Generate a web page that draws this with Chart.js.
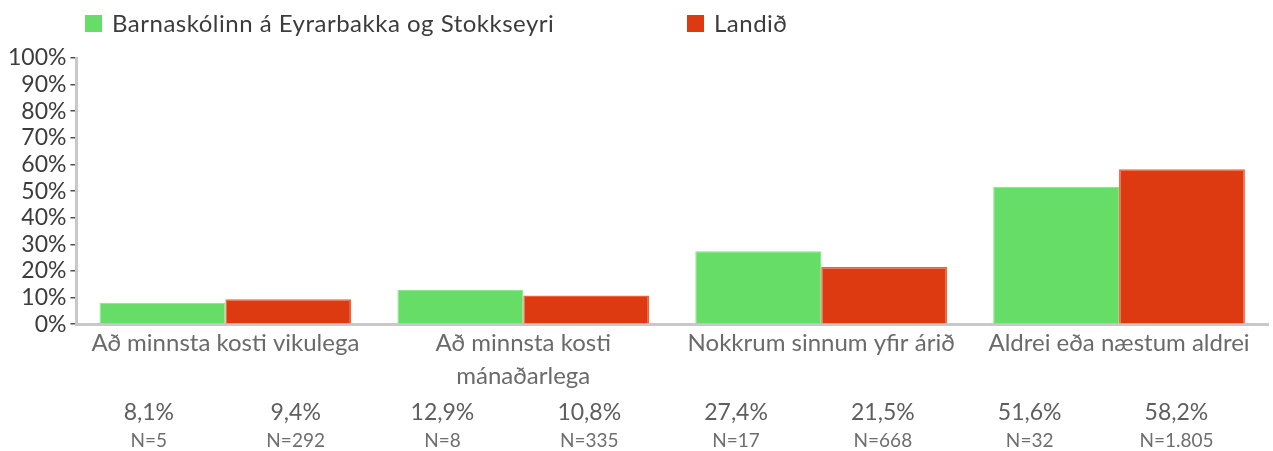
<!DOCTYPE html>
<html>
<head>
<meta charset="utf-8">
<script src="https://cdn.jsdelivr.net/npm/chart.js@4/dist/chart.umd.min.js"></script>
<style>
  html, body { margin: 0; padding: 0; background: #ffffff; }
  #wrap { width: 1273px; height: 451px; position: relative; }
</style>
</head>
<body>
<div id="wrap"><canvas id="chart"></canvas></div>
<script>
// Survey answers: how often pupils do the activity
const categories = [
  ["Að minnsta kosti vikulega"],
  ["Að minnsta kosti", "mánaðarlega"],
  ["Nokkrum sinnum yfir árið"],
  ["Aldrei eða næstum aldrei"]
];
const seriesNames = ["Barnaskólinn á Eyrarbakka og Stokkseyri", "Landið"];
const schoolValues = [8.1, 12.9, 27.4, 51.6];
const nationalValues = [9.4, 10.8, 21.5, 58.2];
const schoolCounts = ["5", "8", "17", "32"];
const nationalCounts = ["292", "335", "668", "1.805"];
const yTickValues = [0, 10, 20, 30, 40, 50, 60, 70, 80, 90, 100];

const GREEN = "#66dd66";
const RED = "#dd3a12";
const FONT = "Lato, 'Open Sans', sans-serif";

const fmtPct = v => v.toFixed(1).replace(".", ",") + "%";

// Legend row drawn across the top
const topLegend = {
  id: "topLegend",
  afterDraw(chart) {
    const ctx = chart.ctx;
    const items = [
      { x: 85, color: GREEN, text: seriesNames[0] },
      { x: 687, color: RED, text: seriesNames[1] }
    ];
    ctx.save();
    ctx.font = "24px " + FONT;
    if ("letterSpacing" in ctx) ctx.letterSpacing = "0.5px";
    ctx.textBaseline = "middle";
    ctx.textAlign = "left";
    items.forEach(it => {
      ctx.fillStyle = it.color;
      ctx.fillRect(it.x, 15, 17, 17);
      ctx.fillStyle = "#3c3c3c";
      ctx.fillText(it.text, it.x + 27, 24);
    });
    ctx.restore();
  }
};

// Value and respondent-count table under the axis
const valueTable = {
  id: "valueTable",
  afterDraw(chart) {
    const ctx = chart.ctx;
    const area = chart.chartArea;
    const left = area.left - 1;
    const colW = 146.8;
    ctx.save();
    ctx.textAlign = "center";
    ctx.textBaseline = "middle";
    for (let i = 0; i < categories.length; i++) {
      const cols = [
        { v: schoolValues[i], n: schoolCounts[i] },
        { v: nationalValues[i], n: nationalCounts[i] }
      ];
      cols.forEach((c, s) => {
        const x = left + colW * (i * 2 + s + 0.5);
        ctx.font = "23px " + FONT;
        ctx.fillStyle = "#5e5e5e";
        ctx.fillText(fmtPct(c.v), x, 413);
        ctx.font = "19px " + FONT;
        ctx.fillStyle = "#6e6e6e";
        ctx.fillText("N=" + c.n, x, 441);
      });
    }
    ctx.restore();
  }
};

new Chart(document.getElementById("chart"), {
  type: "bar",
  data: {
    labels: categories,
    datasets: [
      {
        label: seriesNames[0],
        data: schoolValues,
        backgroundColor: GREEN,
        borderColor: "#7fe67f",
        borderWidth: 1
      },
      {
        label: seriesNames[1],
        data: nationalValues,
        backgroundColor: RED,
        borderColor: "#f0603a",
        borderWidth: 1.5
      }
    ]
  },
  options: {
    responsive: true,
    maintainAspectRatio: false,
    animation: false,
    layout: { padding: { top: 58, left: 4, right: 5, bottom: 56 } },
    plugins: {
      legend: { display: false },
      tooltip: { enabled: false }
    },
    datasets: {
      bar: { barPercentage: 1.0, categoryPercentage: 0.845 }
    },
    scales: {
      x: {
        grid: { display: false, drawTicks: false },
        border: { display: true, color: "#c8c8c8", width: 3 },
        ticks: {
          padding: 3,
          color: "#6a6a6a",
          font: { family: FONT, size: 24, lineHeight: 1.35 },
          maxRotation: 0,
          autoSkip: false
        }
      },
      y: {
        min: 0,
        max: 100,
        afterBuildTicks(axis) {
          axis.ticks = yTickValues.map(v => ({ value: v }));
        },
        grid: {
          display: true,
          drawOnChartArea: false,
          drawTicks: true,
          tickLength: 6,
          tickColor: "#505050",
          lineWidth: 1.5
        },
        border: { display: true, color: "#c8c8c8", width: 3 },
        ticks: {
          autoSkip: false,
          padding: 4,
          color: "#3c3c3c",
          font: { family: FONT, size: 23 },
          callback: v => v + "%"
        }
      }
    }
  },
  plugins: [topLegend, valueTable]
});
</script>
</body>
</html>
